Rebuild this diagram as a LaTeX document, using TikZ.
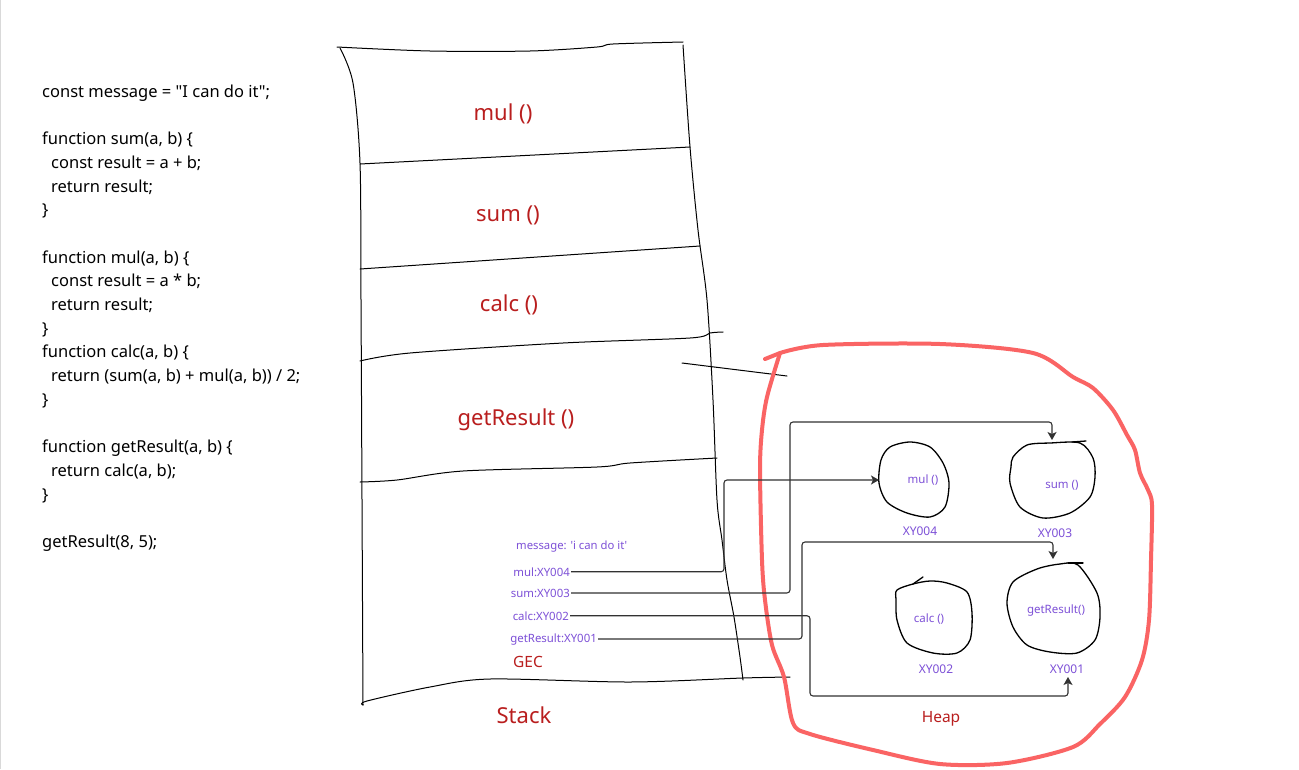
\documentclass[tikz,border=0pt]{standalone}
\usepackage{fontspec}
\setmainfont{Noto Sans}[Ligatures=TeXOff]
\usetikzlibrary{arrows.meta}
\definecolor{txtred}{RGB}{185,30,30}
\definecolor{purp}{RGB}{125,80,215}
\definecolor{heapred}{RGB}{250,100,100}
\definecolor{connc}{RGB}{50,50,50}
\newcommand{\codefnt}{\fontsize{16.5}{19}\selectfont}
\newcommand{\bigfnt}{\fontsize{22}{26}\selectfont}
\newcommand{\midfnt}{\fontsize{15.5}{18}\selectfont}
\newcommand{\smfnt}{\fontsize{11.4}{14}\selectfont}
\newcommand{\tinyfnt}{\fontsize{11.5}{14}\selectfont}
\tikzset{
  codeline/.style={anchor=base west, inner sep=0pt, font=\codefnt, text=black},
  framelbl/.style={anchor=base, inner sep=0pt, font=\bigfnt, text=txtred},
  redlbl/.style={anchor=base, inner sep=0pt, font=\midfnt, text=txtred},
  reflbl/.style={anchor=base east, inner sep=1pt, font=\smfnt, text=purp},
  heaplbl/.style={anchor=base, inner sep=0pt, font=\tinyfnt, text=purp},
  addrlbl/.style={anchor=base, inner sep=0pt, font=\fontsize{12}{14}\selectfont, text=purp},
  sketch/.style={draw=black, line width=1pt, line cap=round, line join=round},
  blob/.style={draw=black, line width=1.3pt, line cap=round},
  conn/.style={draw=connc, line width=1.1pt, rounded corners=3pt, -{Stealth[length=8pt,width=9pt,inset=2pt]}},
}
\begin{document}
\begin{tikzpicture}[x=1pt,y=-1pt]
\useasboundingbox (0,0) rectangle (1299,769);
\fill[white] (0,0) rectangle (1299,769);
\draw[black!15, line width=1pt] (0.5,0) -- (0.5,769);

% ---------- code ----------
\node[codeline] (c1)  at (42,97)  {const message = "I can do it";};
\node[codeline] (c2)  at (42,144) {function sum(a, b) \{};
\node[codeline] (c3)  at (51,168) {const result = a + b;};
\node[codeline] (c4)  at (51,192) {return result;};
\node[codeline] (c5)  at (42,215) {\}};
\node[codeline] (c6)  at (42,263) {function mul(a, b) \{};
\node[codeline] (c7)  at (51,286) {const result = a * b;};
\node[codeline] (c8)  at (51,310) {return result;};
\node[codeline] (c9)  at (42,334) {\}};
\node[codeline] (c10) at (42,357) {function calc(a, b) \{};
\node[codeline] (c11) at (51,381) {return (sum(a, b) + mul(a, b)) / 2;};
\node[codeline] (c12) at (42,405) {\}};
\node[codeline] (c13) at (42,452) {function getResult(a, b) \{};
\node[codeline] (c14) at (51,476) {return calc(a, b);};
\node[codeline] (c15) at (42,500) {\}};
\node[codeline] (c16) at (42,547) {getResult(8, 5);};

% ---------- stack outline ----------
\draw[sketch] plot[smooth] coordinates {(337,47) (430,51) (530,51) (597,47) (613,44) (683,42)};
\draw[sketch] plot[smooth] coordinates {(340,48) (353,83) (360,163) (361,300) (362,500) (363,705)};
\draw[sketch] plot[smooth] coordinates {(683,45) (690,147) (698,230) (707,300) (713,400) (717,500) (722,540) (727,580) (734,617) (740,657) (743,680)};
\draw[sketch] (360,164) -- (690,147);
\draw[sketch] (360,269) -- (700,246);
\draw[sketch] plot[smooth] coordinates {(360,361) (410,353) (563,343) (690,338) (710,333) (723,332)};
\draw[sketch] plot[smooth] coordinates {(360,482) (397,480) (463,471) (597,467) (630,463) (717,458)};
\draw[sketch] (682,363) -- (787,376);
\draw[sketch] plot[smooth] coordinates {(363,705) (367,701) (430,687) (490,679) (630,682) (743,678) (790,677)};

% ---------- stack labels ----------
\node[framelbl] (smul)  at (503,120) {mul ()};
\node[framelbl] (ssum)  at (508,221) {sum ()};
\node[framelbl] (scalc) at (509,311) {calc ()};
\node[framelbl] (sget)  at (516,425) {getResult ()};
\node[redlbl]   (gec)   at (528,667) {GEC};
\node[framelbl] (stk)   at (524,723) {Stack};

\node[anchor=base west, inner sep=0pt, font=\fontsize{11.3}{14}\selectfont, text=purp] (msg) at (516,549) {message: 'i can do it'};
\node[reflbl] (pmul)  at (571,576) {mul:XY004};
\node[reflbl] (psum)  at (571,597) {sum:XY003};
\node[reflbl] (pcalc) at (570,620) {calc:XY002};
\node[reflbl] (pget)  at (598,642) {getResult:XY001};

% ---------- heap ----------
\draw[heapred, line width=4pt, line cap=round, line join=round] (765,359) -- (780,353);
\draw[heapred, line width=4pt, line cap=round, line join=round] plot[smooth] coordinates {
 (780,353) (823,345) (940,344) (1033,353) (1073,377) (1093,388) (1113,410) (1127,435) (1135,450)
 (1140,473) (1148,490) (1152,505) (1151,560) (1149,620) (1142,660) (1125,697) (1100,724) (1073,747)
 (1007,763) (940,764) (873,750) (810,734) (793,723) (784,677) (772,645) (765,600) (762,560)
 (760,470) (762,430) (767,397) (780,353)};

\draw[blob] plot[smooth cycle] coordinates {(890,447) (910,442) (930,447) (943,463) (949,483) (945,507) (930,517) (907,513) (887,502) (879,483) (881,460)};
\draw[blob] plot[smooth cycle] coordinates {(1013,457) (1027,445) (1050,443) (1080,443) (1093,458) (1095,477) (1090,497) (1070,513) (1043,518) (1020,507) (1010,483) (1011,467)};
\draw[blob] (1072,442) -- (1086,441);
\draw[blob] plot[smooth cycle] coordinates {(897,590) (913,584) (930,581) (947,583) (967,592) (972,613) (970,640) (957,653) (933,653) (907,643) (897,620) (896,600)};
\draw[blob] (913,584) -- (923,577);
\draw[blob] plot[smooth cycle] coordinates {(1013,582) (1037,569) (1060,564) (1078,565) (1097,593) (1100,617) (1095,640) (1077,653) (1050,652) (1027,645) (1013,627) (1007,603)};
\draw[blob] (1068,563) -- (1083,563);

\node[heaplbl] (hmul)  at (923,483) {mul ()};
\node[heaplbl] (hsum)  at (1062,488) {sum ()};
\node[heaplbl] (hcalc) at (929,622) {calc ()};
\node[heaplbl] (hget)  at (1056,613) {getResult()};
\node[addrlbl] (a4) at (920,535) {XY004};
\node[addrlbl] (a3) at (1055,537) {XY003};
\node[addrlbl] (a2) at (936,673) {XY002};
\node[addrlbl] (a1) at (1067,673) {XY001};
\node[redlbl] (heap) at (941,722) {Heap};

% ---------- connectors ----------
\coordinate (mulbend) at (724,480);
\coordinate (hmulW) at (879,480);
\coordinate (sumbend) at (790,422);
\coordinate (hsumN) at (1052,440);
\coordinate (getbend) at (802,542);
\coordinate (hgetN) at (1053,559);
\coordinate (calcbend) at (810,696);
\coordinate (hgetS) at (1068,677);

\draw[conn] (pmul.east) -| (mulbend) -- (hmulW);
\draw[conn] (psum.east) -| (sumbend) -| (hsumN);
\draw[conn] (pget.east) -| (getbend) -| (hgetN);
\draw[conn] (pcalc.east) -| (calcbend) -| (hgetS);
\end{tikzpicture}
\end{document}
